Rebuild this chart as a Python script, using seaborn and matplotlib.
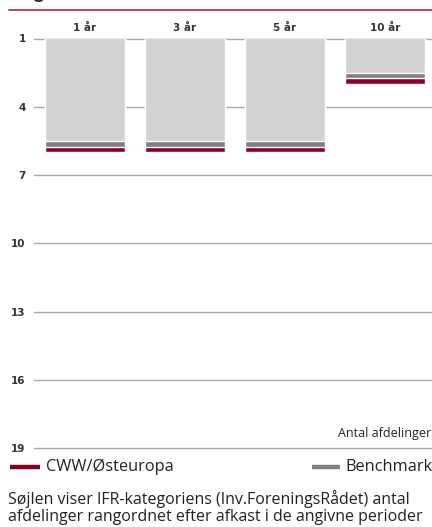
import matplotlib
matplotlib.use("Agg")
import matplotlib.pyplot as plt
from matplotlib.lines import Line2D
import seaborn as sns
import pandas as pd

# ---- data ----
periods = ["1 år", "3 år", "5 år", "10 år"]
antal = [6, 6, 6, 3]            # number of funds in category (bar length)
fund_rank = [6, 6, 6, 3]        # CWW/Østeuropa rank (end of red band)
bench_rank = [5.75, 5.75, 5.75, 2.75]  # Benchmark (end of dark grey band)
band = 0.25
yticks = [1, 4, 7, 10, 13, 16, 19]
fund_label = "CWW/Østeuropa"
bench_label = "Benchmark"
caption = ("Søjlen viser IFR-kategoriens (Inv.ForeningsRådet) antal\n"
           "afdelinger rangordnet efter afkast i de angivne perioder")

df = pd.DataFrame({"period": periods, "antal": antal,
                   "fund": fund_rank, "bench": bench_rank})
df["light"] = df["bench"] - band

W, H = 432, 527
sns.set_theme(style="white")
plt.rcParams["font.family"] = ["DejaVu Sans"]
fig = plt.figure(figsize=(W / 100, H / 100), dpi=100)
ax = fig.add_axes([34 / W, 1 - 448 / H, 1 - 34 / W, (448 - 38.5) / H])

red = "#8c0028"
dgray = "#808080"
lgray = "#d1d2d4"

sns.barplot(data=df, x="period", y="fund", color=red, saturation=1,
            width=0.8, ax=ax, zorder=2)
sns.barplot(data=df, x="period", y="bench", color=dgray, saturation=1,
            width=0.8, ax=ax, zorder=3)
sns.barplot(data=df, x="period", y="light", color=lgray, saturation=1,
            width=0.8, ax=ax, zorder=4)

ax.set_ylim(19, 1)
ax.set_xlim(-0.51, 3.47)
ax.set_yticks(yticks)
ax.set_yticklabels([str(v) for v in yticks])
for v in yticks:
    ax.axhline(v, color="#a8a8a8", lw=1.0, zorder=1, clip_on=False)
for s in ax.spines.values():
    s.set_visible(False)
ax.set_xlabel("")
ax.set_ylabel("")
ax.xaxis.tick_top()
ax.tick_params(axis="x", length=0, pad=4, labelsize=7.5, labelcolor="#333333")
ax.tick_params(axis="y", length=0, pad=6, labelsize=7.5, labelcolor="#333333")
for t in ax.get_xticklabels() + ax.get_yticklabels():
    t.set_fontweight("bold")

# "Antal afdelinger"
fig.text(431 / W, 1 - 434 / H, "Antal afdelinger", ha="right", va="center",
         fontsize=9, color="#222222", family="Open Sans")

# top title (cropped by the figure edge, as in the reference) and rule
fig.text(0 / W, 1 + 0.5 / H, "Rang", ha="left", va="baseline", fontsize=14,
         fontweight="bold", color="#222222", family="Lato")
fig.add_artist(Line2D([9 / W, 1], [1 - 9.5 / H, 1 - 9.5 / H],
                      color="#b04a66", lw=1.4))

# legend
ly = 1 - 467 / H
fig.add_artist(Line2D([10 / W, 40 / W], [ly, ly], color=red, lw=3.2,
                      solid_capstyle="butt"))
fig.text(46 / W, ly, fund_label, ha="left", va="center", fontsize=11.8,
         color="#222222", family="Open Sans")
fig.add_artist(Line2D([312 / W, 340 / W], [ly, ly], color=dgray, lw=3.2,
                      solid_capstyle="butt"))
fig.text(345 / W, ly, bench_label, ha="left", va="center", fontsize=11.8,
         color="#222222", family="Open Sans")

fig.text(8 / W, 1 - 521 / H, caption, ha="left", va="baseline", fontsize=11.5,
         color="#222222", family="Open Sans", linespacing=1.08)

fig.savefig("out.png", dpi=100)
